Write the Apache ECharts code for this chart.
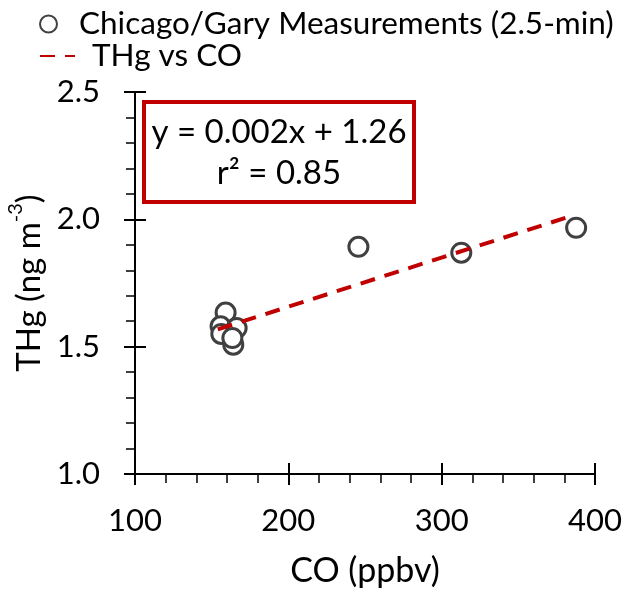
<!DOCTYPE html>
<html>
<head>
<meta charset="utf-8">
<script src="https://cdn.jsdelivr.net/npm/echarts@6/dist/echarts.min.js"></script>
<style>
  html, body { margin: 0; padding: 0; background: #fff; }
  #chart { width: 642px; height: 589px; }
</style>
</head>
<body>
<div id="chart"></div>
<script>
// CO (ppbv) vs THg (ng m-3)
const coValues = [159.1, 155.8, 156.3, 166.3, 164.1, 163.5, 245.7, 312.8, 387.7];
const thgValues = [1.634, 1.580, 1.550, 1.573, 1.508, 1.534, 1.892, 1.869, 1.967];
// trend line end points as drawn
const trendCo = [154, 384];
const trendThg = [1.568, 2.012];
const xTicks = [100, 400, 100];
const yTicks = [1.0, 2.5, 0.5];
const eqText = ["y = 0.002x + 1.26", "r\u00b2 = 0.85"];

const FONT = "Lato";
const RED = "#C00000";
const GREY = "#404040";
const SCATTER_NAME = "Chicago/Gary Measurements (2.5-min)";
const LINE_NAME = "THg vs CO";

let chart = echarts.init(document.getElementById("chart"), null, { renderer: "canvas" });

let pts = coValues.map((x, i) => [x, thgValues[i]]);
let trend = trendCo.map((x, i) => [x, trendThg[i]]);

let option = {
  animation: false,
  backgroundColor: "#fff",
  textStyle: { fontFamily: FONT, color: "#000" },
  grid: { left: 135, right: 47, top: 92, bottom: 115, outerBoundsMode: "none", containLabel: false },
  legend: [
    {
      left: 34,
      top: 3,
      itemWidth: 33,
      itemHeight: 17,
      itemGap: 0,
      textStyle: { fontFamily: FONT, fontSize: 31.5, color: "#000", padding: [0, 0, 0, 9] },
      data: [{ name: SCATTER_NAME }],
    },
    {
      left: 34,
      top: 35,
      itemWidth: 35,
      itemHeight: 17,
      itemGap: 0,
      textStyle: { fontFamily: FONT, fontSize: 31.5, color: "#000", padding: [0, 0, 0, 12] },
      data: [{ name: LINE_NAME, itemStyle: { color: "rgba(0,0,0,0)", borderWidth: 0 } }],
    },
  ],
  xAxis: [
    {
      type: "value",
      min: xTicks[0],
      max: xTicks[1],
      interval: xTicks[2],
      name: "CO (ppbv)",
      nameLocation: "middle",
      nameGap: 80,
      nameTextStyle: { fontFamily: FONT, fontSize: 34, color: "#000" },
      axisLine: { lineStyle: { color: "#000", width: 2 } },
      axisTick: { inside: false, length: 11, lineStyle: { color: "#000", width: 2 } },
      minorTick: { show: true, splitNumber: 5, length: 9, lineStyle: { color: "#000", width: 1.5 } },
      axisLabel: { fontFamily: FONT, fontSize: 31, color: "#000", margin: 31 },
      splitLine: { show: false },
    },
    {
      // inner half of the crossing major ticks
      type: "value",
      position: "bottom",
      min: xTicks[0],
      max: xTicks[1],
      interval: xTicks[2],
      axisLine: { show: false },
      axisTick: { inside: true, length: 11, lineStyle: { color: "#000", width: 2 } },
      axisLabel: { show: false },
      splitLine: { show: false },
    },
  ],
  yAxis: [
    {
      type: "value",
      min: yTicks[0],
      max: yTicks[1],
      interval: yTicks[2],
      name: "{n|THg (ng m}{s|-3}{n|)}",
      nameLocation: "middle",
      nameRotate: 90,
      nameGap: 86,
      nameTextStyle: {
        fontFamily: FONT,
        color: "#000",
        rich: {
          n: { fontFamily: FONT, fontSize: 33, color: "#000", lineHeight: 40, verticalAlign: "bottom" },
          s: { fontFamily: FONT, fontSize: 20, color: "#000", lineHeight: 40, verticalAlign: "top" },
        },
      },
      axisLine: { lineStyle: { color: "#000", width: 2 } },
      axisTick: { inside: false, length: 11, lineStyle: { color: "#000", width: 2 } },
      minorTick: { show: true, splitNumber: 5, length: 9, lineStyle: { color: "#000", width: 1.5 } },
      axisLabel: {
        fontFamily: FONT,
        fontSize: 31,
        color: "#000",
        margin: 35,
        formatter: (v) => v.toFixed(1),
      },
      splitLine: { show: false },
    },
    {
      type: "value",
      position: "left",
      min: yTicks[0],
      max: yTicks[1],
      interval: yTicks[2],
      axisLine: { show: false },
      axisTick: { inside: true, length: 11, lineStyle: { color: "#000", width: 2 } },
      axisLabel: { show: false },
      splitLine: { show: false },
    },
  ],
  series: [
    {
      name: SCATTER_NAME,
      type: "scatter",
      data: pts,
      symbol: "circle",
      symbolSize: 19,
      itemStyle: { color: "#fff", borderColor: GREY, borderWidth: 3, opacity: 1 },
      z: 2,
    },
    {
      name: LINE_NAME,
      type: "line",
      data: trend,
      symbol: "none",
      lineStyle: { color: RED, width: 4, type: [15, 10] },
      itemStyle: { color: RED },
      z: 3,
    },
  ],
  graphic: [
    {
      type: "group",
      left: 142,
      top: 100,
      z: 10,
      children: [
        {
          type: "rect",
          shape: { x: 0, y: 0, width: 270, height: 100 },
          style: { fill: "#fff", stroke: RED, lineWidth: 4 },
        },
        {
          type: "text",
          x: 135,
          y: 51,
          style: {
            text: eqText.join("\n"),
            font: "33px " + FONT,
            fill: "#000",
            align: "center",
            verticalAlign: "middle",
            lineHeight: 41,
          },
        },
      ],
    },
  ],
};

chart.setOption(option);
</script>
</body>
</html>
